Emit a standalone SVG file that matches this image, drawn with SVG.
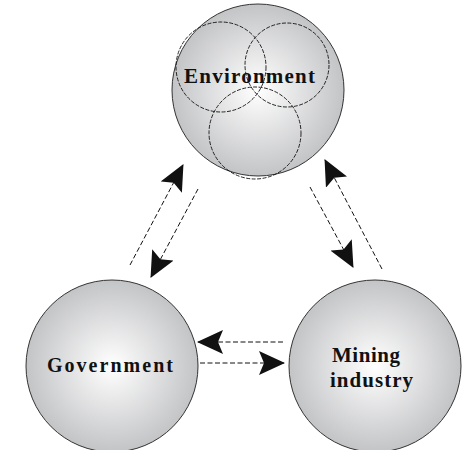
<svg xmlns="http://www.w3.org/2000/svg" width="464" height="450" viewBox="0 0 464 450">
<style>
.node{fill:url(#g);stroke:#333;stroke-width:1}
.inner{fill:none;stroke:#111;stroke-width:0.9;stroke-dasharray:4 1.5}
.lbl{font-family:"Liberation Serif",serif;font-weight:bold;fill:#111}
.c{fill:none;stroke:#111;stroke-width:1;stroke-dasharray:5 2.5}
</style>
<defs>
<radialGradient id="g" cx="0.5" cy="0.5" r="0.5">
<stop offset="0" stop-color="#ffffff"/>
<stop offset="1" stop-color="#c3c4c6"/>
</radialGradient>
<marker id="ah" viewBox="0 0 26 24" refX="25" refY="12" markerWidth="26" markerHeight="24" markerUnits="userSpaceOnUse" orient="auto">
<path d="M0,0 L26,12 L0,24 L5,12 Z" fill="#111"/>
</marker>
</defs>
<rect width="464" height="450" fill="#fff"/>
<g id="environment">
<circle class="node" cx="258" cy="90" r="86"/>
<circle class="inner" cx="221" cy="67" r="45"/>
<circle class="inner" cx="287" cy="65" r="42"/>
<circle class="inner" cx="255" cy="133" r="46"/>
<text class="lbl" x="184" y="83" font-size="21" textLength="131" lengthAdjust="spacing">Environment</text>
</g>
<g id="government">
<circle class="node" cx="112" cy="366" r="86"/>
<text class="lbl" x="47" y="372" font-size="20" textLength="126" lengthAdjust="spacing">Government</text>
</g>
<g id="mining">
<circle class="node" cx="375" cy="366" r="86"/>
<text class="lbl" x="332" y="362" font-size="21" textLength="68" lengthAdjust="spacing">Mining</text>
<text class="lbl" x="330" y="387" font-size="21" textLength="83" lengthAdjust="spacing">industry</text>
</g>
<g id="connectors">
<line class="c" x1="130" y1="265" x2="183" y2="165" marker-end="url(#ah)"/>
<line class="c" x1="198" y1="189" x2="151" y2="277" marker-end="url(#ah)"/>
<line class="c" x1="382" y1="269" x2="325" y2="160" marker-end="url(#ah)"/>
<line class="c" x1="310" y1="187" x2="353" y2="267" marker-end="url(#ah)"/>
<line class="c" x1="283" y1="342" x2="198" y2="342" marker-end="url(#ah)"/>
<line class="c" x1="200" y1="363" x2="284" y2="363" marker-end="url(#ah)"/>
</g>
</svg>
